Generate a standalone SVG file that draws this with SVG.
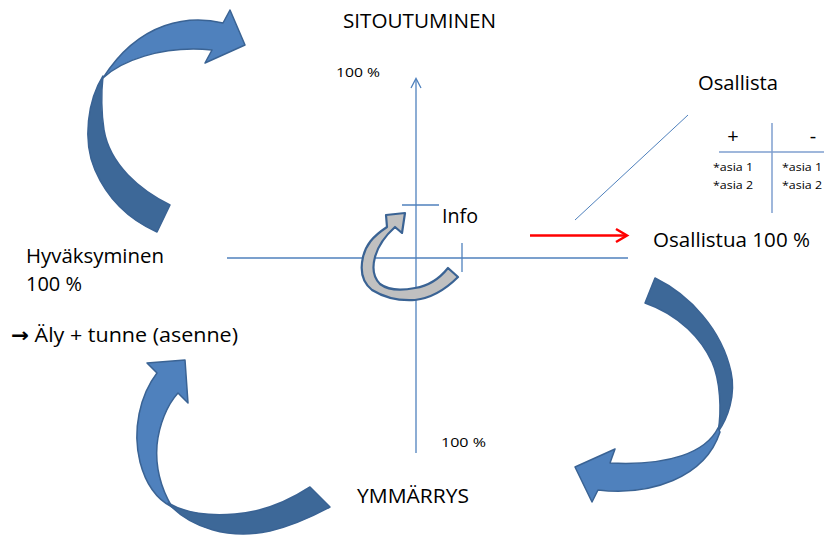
<svg xmlns="http://www.w3.org/2000/svg" width="824" height="545" viewBox="0 0 824 545">
<style>
text{font-family:"Open Sans","Liberation Sans",sans-serif;fill:#000}
.ax{stroke:#4f81bd;stroke-width:1.3;fill:none}
.lt{fill:#4f81bd;stroke:#3a6394;stroke-width:1.5;stroke-linejoin:round}
.dk{fill:#3d6898;stroke:#3a6394;stroke-width:1.5;stroke-linejoin:round}
.big{font-size:20px}
.sm{font-size:13.5px}
.xs{font-size:11.5px}
</style>
<rect width="824" height="545" fill="#fff"/>
<g id="connectors">
<g id="axes">
<line class="ax" x1="227" y1="258" x2="628" y2="258"/>
<line class="ax" x1="416" y1="79" x2="416" y2="453"/>
<polyline class="ax" points="411,88 416,78.5 421,88"/>
<line class="ax" x1="402" y1="205" x2="439" y2="205"/>
<line class="ax" x1="462" y1="243" x2="462" y2="272"/>
<line x1="575" y1="220" x2="688" y2="115" stroke="#4f81bd" stroke-width="1"/>
</g>
<g id="red-arrow" stroke="#ff0000" stroke-width="2.5" fill="none">
<line x1="530" y1="235.5" x2="626" y2="235.5"/>
<polyline points="616,229 627,235.5 616,242"/>
</g>
<g id="arrow-top-left">
<path class="lt" d="M212,50 L205,63 L245,45 L230,10 L223,23 C190,15 140,20 103,78 C120,62 160,45 212,50 Z"/>
<path class="dk" d="M103,76 C88,100 82,140 95,170 C108,200 130,220 157,232 L170,205 C140,190 110,165 104,130 C101,110 101,95 103,76 Z"/>
</g>
<g id="arrow-bottom-right">
<path class="dk" d="M655,278 C690,295 722,330 731,372 C736,395 728,418 718,432 C722,410 720,380 712,362 C702,340 680,315 645,303 Z"/>
<path class="lt" d="M718,428 C706,452 670,466 610,463 L615,449 L575,467 L592,502 L598,490 C650,496 705,478 720,432 Z"/>
</g>
<g id="arrow-bottom-left">
<path class="lt" d="M178,393 L188,403 L185,360 L147,363 L157,373 C140,395 132,430 140,462 C146,485 158,500 172,507 C162,490 155,470 157,445 C159,425 167,405 178,393 Z"/>
<path class="dk" d="M168,503 C190,528 230,540 270,531 C295,525 315,515 330,507 L310,487 C290,500 265,512 235,514 C210,516 185,513 168,503 Z"/>
</g>
<g id="arrow-info">
<path d="M448,268 L458,277 C445,290 432,298 415,300 C400,301 385,298 372,290 C362,282 360,270 363,257 C366,245 372,237 387,227 L386,215 L405,213 L402,233 L395,227 C385,236 378,246 375,257 C372,268 374,278 380,284 C388,290 400,291 415,288 C428,286 440,278 448,268 Z" fill="#c0c0c0" stroke="#3a6394" stroke-width="2.2" stroke-linejoin="round"/>
</g>
<g id="table">
<line x1="772" y1="123" x2="772" y2="213" stroke="#7f9fcf" stroke-width="1.5"/>
<line x1="719" y1="152" x2="824" y2="152" stroke="#7f9fcf" stroke-width="1.5"/>
</g>
</g>
<g id="node-sitoutuminen"><text class="big" x="343" y="28" textLength="153" lengthAdjust="spacingAndGlyphs">SITOUTUMINEN</text></g>
<g id="node-top100"><text class="sm" x="336" y="77" textLength="44" lengthAdjust="spacingAndGlyphs">100 %</text></g>
<g id="node-osallista"><text class="big" x="698" y="90" textLength="80" lengthAdjust="spacingAndGlyphs">Osallista</text></g>
<g id="node-table-text">
<text x="733" y="143" font-size="20" text-anchor="middle">+</text>
<text x="813" y="143" font-size="20" text-anchor="middle">-</text>
<text class="xs" x="713" y="171" textLength="40" lengthAdjust="spacingAndGlyphs">*asia 1</text>
<text class="xs" x="713" y="189" textLength="40" lengthAdjust="spacingAndGlyphs">*asia 2</text>
<text class="xs" x="782" y="171" textLength="40" lengthAdjust="spacingAndGlyphs">*asia 1</text>
<text class="xs" x="782" y="189" textLength="40" lengthAdjust="spacingAndGlyphs">*asia 2</text>
</g>
<g id="node-osallistua"><text class="big" x="653" y="247" font-size="19" textLength="157" lengthAdjust="spacingAndGlyphs">Osallistua 100 %</text></g>
<g id="node-info"><text class="big" x="442" y="223" textLength="36" lengthAdjust="spacingAndGlyphs">Info</text></g>
<g id="node-hyvaksyminen">
<text class="big" x="26" y="263" textLength="138" lengthAdjust="spacingAndGlyphs">Hyväksyminen</text>
<text class="big" x="26" y="291" textLength="56" lengthAdjust="spacingAndGlyphs">100 %</text>
<text class="big" x="11" y="342" textLength="227" lengthAdjust="spacingAndGlyphs"><tspan font-family="DejaVu Sans, sans-serif" font-weight="bold">→</tspan> Äly + tunne (asenne)</text>
</g>
<g id="node-bottom100"><text class="sm" x="441" y="447" textLength="45" lengthAdjust="spacingAndGlyphs">100 %</text></g>
<g id="node-ymmarrys"><text class="big" x="357" y="503" textLength="112" lengthAdjust="spacingAndGlyphs">YMMÄRRYS</text></g>
</svg>
